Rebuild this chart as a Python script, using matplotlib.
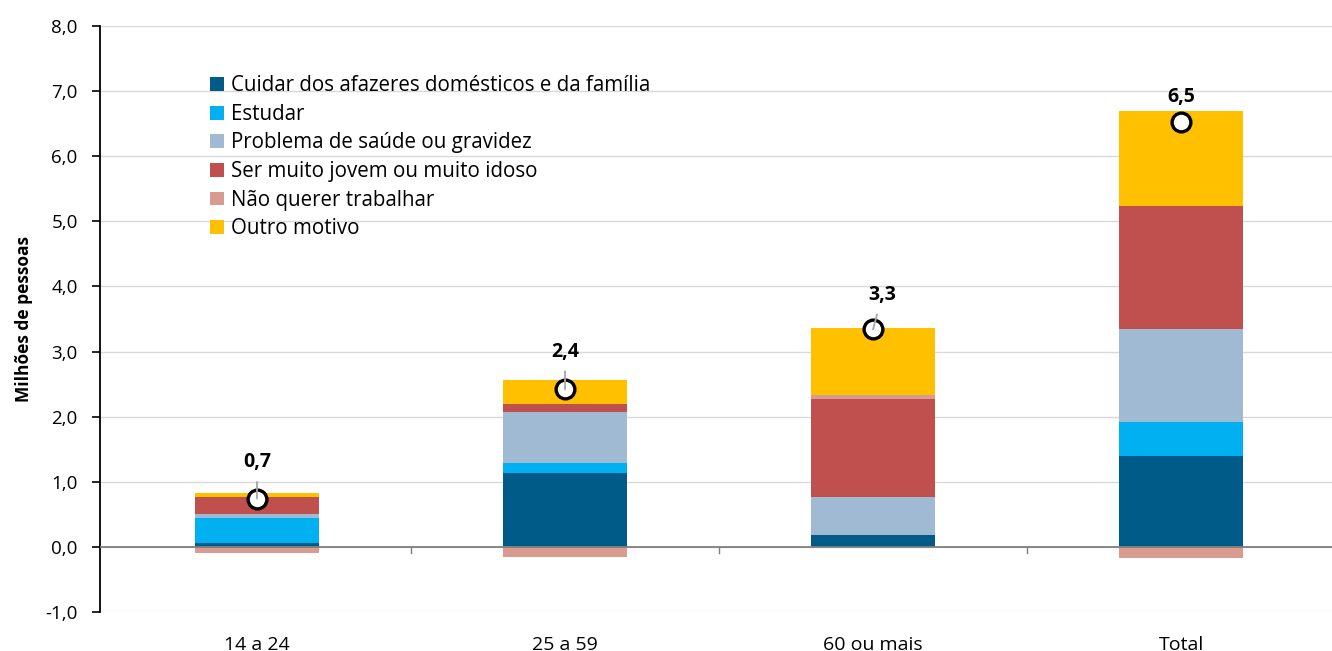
import numpy as np
import matplotlib
matplotlib.use('Agg')
import matplotlib.pyplot as plt
from matplotlib.patches import Patch

plt.rcParams['font.family'] = ['Open Sans', 'DejaVu Sans']

# categorias e series (milhoes de pessoas)
categorias = ['14 a 24', '25 a 59', '60 ou mais', 'Total']
series_nomes = ['Cuidar dos afazeres domésticos e da família', 'Estudar',
                'Problema de saúde ou gravidez', 'Ser muito jovem ou muito idoso',
                'Não querer trabalhar', 'Outro motivo']
cuidar = [0.06, 1.13, 0.18, 1.39]
estudar = [0.38, 0.16, 0.0, 0.52]
saude = [0.06, 0.78, 0.59, 1.44]
jovem_idoso = [0.26, 0.12, 1.50, 1.88]
nao_querer = [-0.09, -0.15, 0.06, -0.17]
outro = [0.07, 0.38, 1.03, 1.47]
totais = [0.74, 2.42, 3.34, 6.52]
cores = ['#005B89', '#00B0F0', '#A0BAD3', '#C0504D', '#D99A90', '#FFC000']

series = [cuidar, estudar, saude, jovem_idoso, nao_querer, outro]

fig = plt.figure(figsize=(13.32, 6.51), dpi=100)
ax = fig.add_axes([0.075, 0.06, 0.925, 0.9])

x = np.arange(len(categorias))
pos_base = np.zeros(len(categorias))
neg_base = np.zeros(len(categorias))
for vals, cor in zip(series, cores):
    vals = np.array(vals)
    base = np.where(vals >= 0, pos_base, neg_base)
    ax.bar(x, vals, width=0.4, bottom=base, color=cor, zorder=2)
    pos_base += np.where(vals >= 0, vals, 0)
    neg_base += np.where(vals < 0, vals, 0)

# marcadores do total
ax.plot(x, totais, 'o', ms=13.5, mfc='white', mec='black', mew=2.4, zorder=4, ls='none')

# rotulos com linha guia (o ultimo sem linha)
offsets = [(0, 0.56), (0, 0.58), (0.03, 0.53), (0, 0.39)]
for i, (xi, t, (dx, dy)) in enumerate(zip(x, totais, offsets)):
    lbl = ('%.1f' % t).replace('.', ',')
    arrow = None
    if i < 3:
        arrow = dict(arrowstyle='-', color='#A6A6A6', lw=1.3, shrinkA=5, shrinkB=0)
    ax.annotate(lbl, xy=(xi, t), xytext=(xi + dx, t + dy), ha='center', va='center',
                fontsize=14, fontweight='bold', zorder=5, arrowprops=arrow)

ax.set_xlim(-0.51, 3.49)
ax.set_ylim(-1, 8)
ax.set_yticks(np.arange(-1, 9, 1))
ax.set_yticklabels([('%.1f' % v).replace('.', ',') for v in np.arange(-1, 9, 1)], fontsize=13.5)
ax.yaxis.grid(True, color='#D9D9D9', lw=1, zorder=0)
ax.set_xticks(x)
ax.set_xticklabels(categorias, fontsize=14)
ax.tick_params(axis='x', length=0, pad=17)
ax.tick_params(axis='y', length=6, width=1.2, direction='out', pad=10)

for s in ['top', 'right', 'bottom']:
    ax.spines[s].set_visible(False)
ax.spines['left'].set_linewidth(1.3)
ax.spines['left'].set_color('black')

# linha do zero com marcas entre categorias
ax.axhline(0, color='#7F7F7F', lw=1.3, zorder=3)
for b in [0.5, 1.5, 2.5]:
    ax.plot([b, b], [0, -0.1], color='#7F7F7F', lw=1, zorder=3)

ax.set_ylabel('Milhões de pessoas', fontsize=12.5, fontweight='bold', labelpad=9)

handles = [Patch(facecolor=c, edgecolor='none') for c in cores]
ax.legend(handles, series_nomes, loc='upper left', bbox_to_anchor=(0.083, 0.93),
          frameon=False, fontsize=14.8, handlelength=0.65, handleheight=0.65,
          handletextpad=0.35, labelspacing=0.37, borderaxespad=0)

fig.savefig('out.png', dpi=100)
